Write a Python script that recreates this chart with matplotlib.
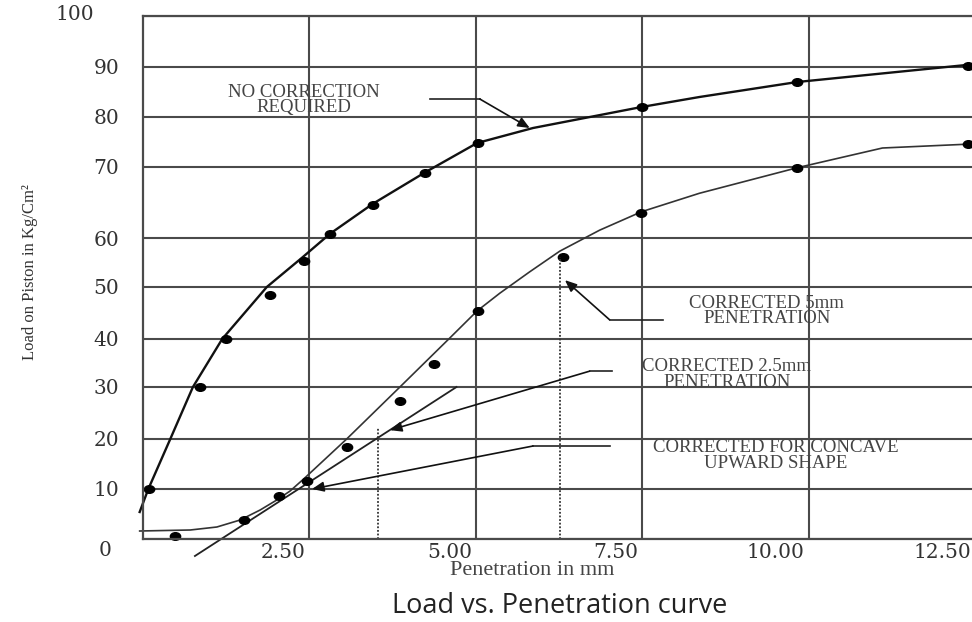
import numpy as np
import matplotlib
matplotlib.use('Agg')
import matplotlib.pyplot as plt
from matplotlib.markers import MarkerStyle
from matplotlib.transforms import Affine2D, ScaledTranslation

# the scanned sheet has uneven row heights, so values are mapped onto it
Y_GRID = [0, 10, 20, 30, 40, 50, 60, 70, 80, 90, 100]
Y_GRID_POS = [0, 50, 100, 152, 200, 252, 301, 372, 422, 472, 523]
X_TICKS = [2.5, 5.0, 7.5, 10.0, 12.5]
X_TICK_LABELS = ['2.50', '5.00', '7.50', '10.00', '12.50']

# test readings
raw_x = [0.09, 0.86, 1.25, 1.91, 2.42, 2.81, 3.45, 4.23, 5.03, 7.49, 9.83, 12.40]
raw_y = [10.0, 30.0, 40.0, 48.5, 55.3, 60.6, 64.6, 69.2, 74.8, 82.0, 87.0, 90.2]
cor_x = [0.48, 1.52, 2.04, 2.46, 3.06, 3.86, 4.37, 5.03, 6.31, 7.48, 9.82, 12.40]
cor_y = [0.7, 3.8, 8.6, 11.6, 18.4, 27.3, 34.8, 45.4, 56.1, 63.5, 69.8, 74.6]

# hand drawn curves
raw_curve_x = [-0.05, 0.08, 0.41, 0.75, 1.19, 1.86, 2.40, 2.81, 3.45, 4.23, 5.02, 5.86,
               7.49, 8.36, 9.83, 12.45]
raw_curve_y = [5.4, 10.0, 20.0, 30.0, 40.0, 50.0, 56.1, 60.6, 64.8, 69.2, 74.8, 77.8,
               82.0, 84.0, 87.0, 90.5]
cor_curve_x = [-0.05, 0.71, 1.11, 1.46, 1.76, 2.01, 2.21, 2.43, 3.06, 3.86, 4.61, 5.02,
               5.36, 5.81, 6.26, 6.86, 7.49, 8.36, 9.83, 11.11, 12.45]
cor_curve_y = [1.6, 1.8, 2.4, 3.8, 5.8, 7.8, 9.6, 12.2, 20.0, 30.0, 40.2, 45.4,
               48.8, 53.1, 57.3, 61.1, 63.7, 66.3, 69.9, 73.8, 74.6]
tangent_x = [0.78, 4.71]
tangent_y = [-3.4, 30.0]

# corrected penetrations (dotted drops)
drop_x = [3.53, 6.26]
drop_y = [22.1, 56.1]

# notes: text, text pos, leader start, bend, tip
notes = [
    ('NO CORRECTION\nREQUIRED', (2.42, 83.4), (4.31, 83.6), (5.06, 83.6), (5.81, 77.8)),
    ('CORRECTED 5mm\nPENETRATION', (9.37, 45.4), (7.81, 43.7), (7.01, 43.7), (6.34, 51.4)),
    ('CORRECTED 2.5mm\nPENETRATION', (8.77, 32.6), (7.04, 33.3), (6.71, 33.3), (3.71, 21.7)),
    ('CORRECTED FOR CONCAVE\nUPWARD SHAPE', (9.50, 16.7), (7.01, 18.6), (5.86, 18.6), (2.54, 10.0)),
]

yv = np.array([-100] + Y_GRID + [200], dtype=float)
yp = np.array([-500] + Y_GRID_POS + [523 + 510], dtype=float)

def fwd(v):
    return np.interp(v, yv, yp)

def inv(p):
    return np.interp(p, yp, yv)

fig = plt.figure(figsize=(9.72, 6.22), dpi=100)
ax = fig.add_axes([143 / 972, 83 / 622, 832 / 972, 523 / 622])
ax.set_yscale('function', functions=(fwd, inv))
ax.set_xlim(0, 12.5)
ax.set_ylim(0, 100)

grid_c = '#4a4a4a'
tick_c = '#333333'
ax.set_yticks(Y_GRID)
ax.set_yticklabels([''] + [str(v) for v in Y_GRID[1:-1]] + [''])
ax.set_xticks(X_TICKS)
ax.set_xticklabels(X_TICK_LABELS)
ax.grid(True, color=grid_c, lw=1.5)
ax.set_axisbelow(True)
ax.tick_params(length=0)
ax.tick_params(axis='y', pad=17, labelsize=14.5, labelcolor=tick_c)
ax.tick_params(axis='x', pad=3, labelsize=14.5, labelcolor=tick_c)
for lab in ax.get_yticklabels() + ax.get_xticklabels():
    lab.set_family('DejaVu Serif')
for lab in ax.get_xticklabels():
    lab.set_horizontalalignment('right')
    lab.set_transform(lab.get_transform() + ScaledTranslation(-4 / 100, 0, fig.dpi_scale_trans))
# the 0 and 100 labels sit off the column on the sheet
ax.annotate('0', xy=(0, 0), xytext=(-38, -11), textcoords='offset pixels',
            ha='center', va='center', fontsize=14.5, family='DejaVu Serif', color=tick_c)
ax.annotate('100', xy=(0, 100), xytext=(-68, 1), textcoords='offset pixels',
            ha='center', va='center', fontsize=14.5, family='DejaVu Serif', color=tick_c)

for s in ['left', 'bottom', 'top']:
    ax.spines[s].set_color(grid_c)
    ax.spines[s].set_linewidth(1.6)
ax.spines['right'].set_visible(False)

dot = MarkerStyle('o', transform=Affine2D().scale(1.35, 1.0))
ax.plot(raw_curve_x, raw_curve_y, color='#111111', lw=1.7, clip_on=False)
ax.plot(cor_curve_x, cor_curve_y, color='#333333', lw=1.2, clip_on=False)
ax.plot(tangent_x, tangent_y, color='#222222', lw=1.3, clip_on=False)
ax.plot(raw_x, raw_y, ls='none', marker=dot, ms=5.5, color='black', clip_on=False)
ax.plot(cor_x, cor_y, ls='none', marker=dot, ms=5.5, color='black', clip_on=False)
for x, top in zip(drop_x, drop_y):
    ax.plot([x, x], [0, top], color='#333333', lw=1.3, ls=(0, (1, 1)))

for text, pos, start, bend, tip in notes:
    ax.plot([start[0], bend[0]], [start[1], bend[1]], color='#222222', lw=1.2)
    ax.annotate('', xy=tip, xytext=bend,
                arrowprops=dict(arrowstyle='-|>,head_length=0.7,head_width=0.3',
                                color='#111111', lw=1.2, shrinkA=0, shrinkB=0))
    ax.text(pos[0], pos[1], text, ha='center', va='center', multialignment='center',
            family='Liberation Serif', fontsize=13.5, color='#444444', linespacing=0.88)

ax.set_ylabel('Load on Piston in Kg/Cm²', family='Liberation Serif', fontsize=12,
              color=tick_c)
ax.yaxis.set_label_coords(-105 / 832, 0.51)
ax.set_xlabel('Penetration in mm', family='Liberation Serif', fontsize=16, color='#444444',
              labelpad=1)
ax.xaxis.set_label_coords((532 - 143) / 832, -22 / 523)
fig.text(560 / 972, 1 - 606 / 622, 'Load vs. Penetration curve', ha='center', va='center',
         family='Open Sans', fontsize=19.5, color='#222222')

fig.savefig('out.png', dpi=100)
